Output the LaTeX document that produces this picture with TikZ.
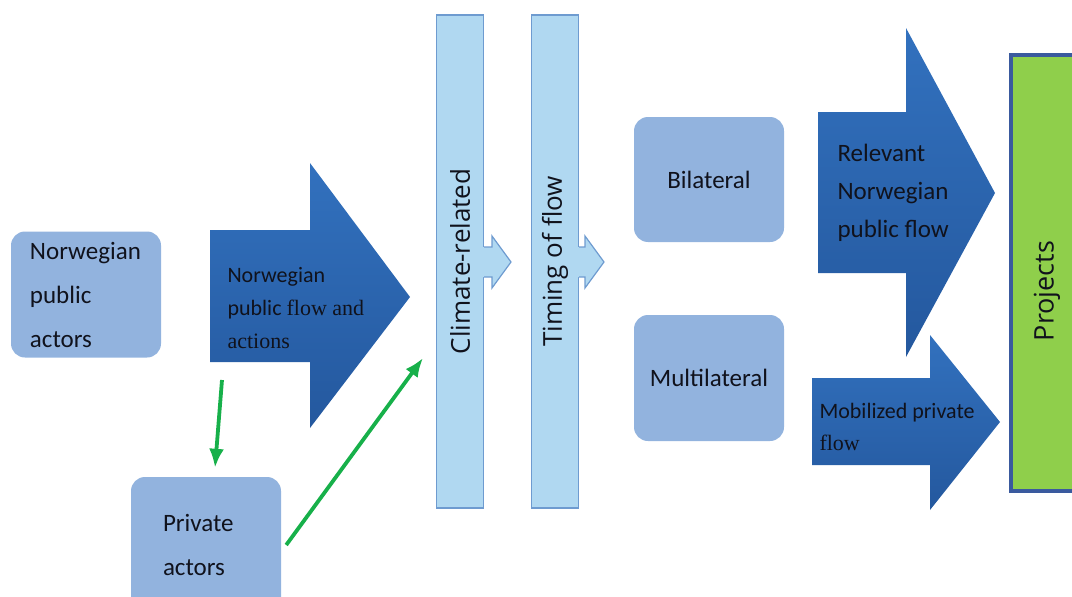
\documentclass[tikz,border=0pt]{standalone}
\usepackage{fontspec}
\setmainfont{Carlito}
\newfontfamily\timesfont{Liberation Serif}
\newfontfamily\barfont{Open Sans}
\usetikzlibrary{positioning,arrows.meta}
\tikzset{>=latex}
\definecolor{actorblue}{HTML}{92B3DE}
\definecolor{barblue}{HTML}{B0D8F1}
\definecolor{baredge}{HTML}{6E9BD0}
\definecolor{flowblue}{HTML}{3271BE}
\definecolor{flowdark}{HTML}{24589E}
\definecolor{projgreen}{HTML}{8FCF4B}
\definecolor{projedge}{HTML}{3A5A9E}
\definecolor{linkgreen}{HTML}{17B04A}
\definecolor{inktext}{HTML}{10121C}
\tikzset{
  actor/.style={rectangle, rounded corners=14pt, fill=actorblue, minimum width=150pt, minimum height=126pt, font=\fontsize{25}{44}\selectfont, text=inktext},
  filter/.style={rectangle, fill=barblue, draw=baredge, line width=1.2pt, rotate=90, minimum width=493pt, minimum height=47pt, font=\barfont\fontsize{26}{30}\selectfont, text=inktext},
  flow/.style={top color=flowblue, bottom color=flowdark},
  flowtext/.style={anchor=west, align=left, text=inktext},
  link/.style={draw=linkgreen, line width=3.8pt, -{Latex[length=19pt,width=15pt]}}
}
\begin{document}
\begin{tikzpicture}[x=1pt, y=-1pt]
  \useasboundingbox (0,0) rectangle (1072,597);
  \node[actor, text width=112pt, align=left] (pubactors) at (86,294.5) {Norwegian\\ public\\ actors};
  \node[actor, text width=86pt, align=left, minimum height=136pt] (privactors) at (206,545) {Private\\ actors};
  \path[flow] (210,230) -- (310,230) -- (310,163) -- (410,297) -- (310,428) -- (310,362) -- (210,362) -- cycle;
  \node[flowtext, font=\fontsize{22}{33}\selectfont] (pubflow) at (224,308) {Norwegian\\ public {\timesfont flow and}\\ {\timesfont actions}};
  \node[filter] (climate) at (460,261.5) {Climate-related};
  \node[filter] (timing) at (555,261.5) {Timing of flow};
  \path[fill=barblue] (482,247) -- (492,247) -- (492,236) -- (511,262) -- (492,288) -- (492,277) -- (482,277) -- cycle;
  \draw[baredge, line width=1.2pt] (484,247) -- (492,247) -- (492,236) -- (511,262) -- (492,288) -- (492,277) -- (484,277);
  \path[fill=barblue] (577,247) -- (585,247) -- (585,236) -- (604,262) -- (585,288) -- (585,277) -- (577,277) -- cycle;
  \draw[baredge, line width=1.2pt] (579,247) -- (585,247) -- (585,236) -- (604,262) -- (585,288) -- (585,277) -- (579,277);
  \node[actor, minimum height=125pt] (bilateral) at (709,179.5) {Bilateral};
  \node[actor] (multilateral) at (709,378) {Multilateral};
  \path[flow] (818,112) -- (906,112) -- (906,28) -- (995,193) -- (906,357) -- (906,273) -- (818,273) -- cycle;
  \node[flowtext, font=\fontsize{25}{38}\selectfont] (pubrelevant) at (834,193) {Relevant\\ Norwegian\\ public flow};
  \path[flow] (812,378) -- (930,378) -- (930,335) -- (1000,422) -- (930,510) -- (930,465) -- (812,465) -- cycle;
  \node[flowtext, font=\fontsize{22}{32}\selectfont] (privflow) at (816,427) {Mobilized private\\ {\timesfont flow}};
  \draw[fill=projgreen, draw=projedge, line width=3.5pt] (1011,55) rectangle (1090,491);
  \node[rotate=90, font=\barfont\fontsize{27}{30}\selectfont, text=inktext] (projects) at (1047,291) {Projects};
  \coordinate (forkstart) at (222,380);
  \coordinate (climatein) at (423,358);
  \draw[link] (forkstart) -- ([xshift=9pt, yshift=9pt]privactors.north);
  \draw[link] ([xshift=5pt]privactors.east) -- (climatein);
\end{tikzpicture}
\end{document}
